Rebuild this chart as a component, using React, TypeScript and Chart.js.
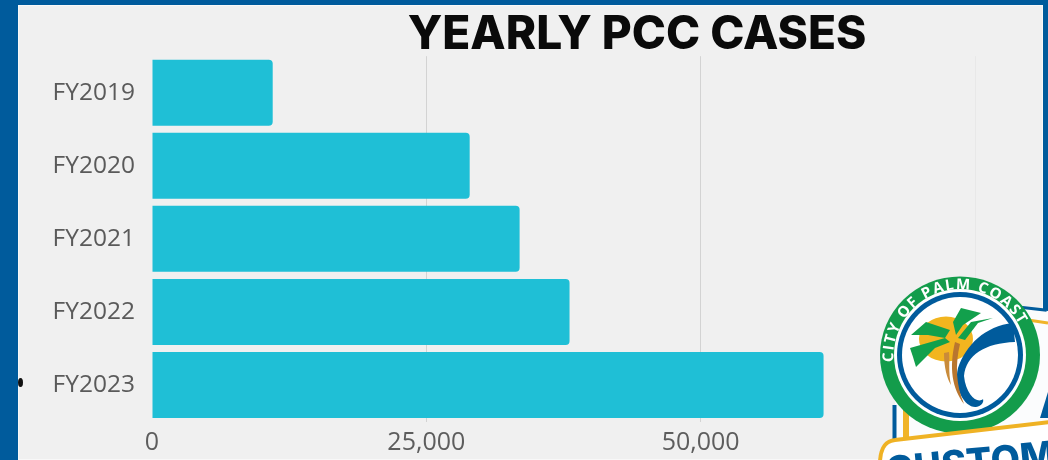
import React, { useEffect, useRef } from "react";
import { Chart, registerables } from "chart.js";

Chart.register(...registerables);

const fiscalYears = ["FY2019", "FY2020", "FY2021", "FY2022", "FY2023"];
const pccCases = [11000, 28950, 33500, 38050, 61200];
const axisTicks = [0, 25000, 50000, 75000];
const gridColors = ["rgba(0,0,0,0)", "#d3d3d3", "#d3d3d3", "#e8e8e8"];

const W = 1048;
const H = 460;

// Shifts the title block so the heading sits right of the plot's own centre.
const titleOffset = {
  id: "titleOffset",
  afterLayout(chart: any) {
    chart.titleBlock.left = 299;
  },
};

function Seal() {
  return (
    <svg
      width={W}
      height={H}
      viewBox={`0 0 ${W} ${H}`}
      style={{ position: "absolute", left: 0, top: 0 }}
    >
      <defs>
        <path id="sealArc" d="M 893.5 362 A 67 67 0 0 1 1025 339" fill="none" />
      </defs>
      {/* shield behind the seal */}
      <path d="M 895 445 L 895 400 L 1018 308 L 1048 311 L 1048 445 Z" fill="#fbfcfd" />
      <path d="M 894.5 445 L 894.5 405" stroke="#005b9c" strokeWidth="4" fill="none" />
      <path d="M 906 445 L 906 410" stroke="#f0b428" strokeWidth="6" fill="none" />
      <path d="M 1018 307 L 1045 310 L 1045 255" stroke="#005b9c" strokeWidth="3" fill="none" />
      <path d="M 1028 320 L 1048 323" stroke="#f0b428" strokeWidth="3" fill="none" />
      <path d="M 1048 392 L 1040 418 L 1048 418 Z" fill="#005b9c" />
      {/* seal */}
      <ellipse cx="960" cy="355" rx="80" ry="78.5" fill="#139c4b" />
      <circle cx="960" cy="355" r="66" fill="#ffffff" />
      <circle cx="960" cy="355" r="63" fill="#005b9c" />
      <circle cx="960" cy="355" r="58" fill="#ffffff" />
      <text fontFamily="'Open Sans'" fontWeight="700" fontSize="15" fill="#ffffff" letterSpacing="1.6">
        <textPath href="#sealArc">CITY OF PALM COAST</textPath>
      </text>
      <ellipse cx="946" cy="339" rx="27" ry="22.5" fill="#f2b51f" />
      <path d="M 911 335 L 926 322 L 950 330 L 945 338 L 928 335 Z" fill="#12a04c" />
      <path d="M 910 348 L 945 338 L 950 342 L 935 348 L 916 367 L 913 357 Z" fill="#12a04c" />
      <path d="M 953 322 L 961 308 L 981 313 L 963 325 L 956 335 Z" fill="#12a04c" />
      <path d="M 958 338 L 971 322 L 993 318 L 978 323 L 965 340 Z" fill="#12a04c" />
      <path
        d="M 1013 323 C 985 326 966 345 958 368 C 953 388 965 408 976 407 C 982 406 984 402 983 399 C 978 404 966 396 964 376 C 966 355 985 343 1015 342 Z"
        fill="#005b9c"
      />
      <path d="M 944 353 C 944 368 947 378 951 385 C 948 372 950 360 949 352 Z" fill="#c98b3a" />
      <path d="M 955 342 C 949 368 952 388 964 404 C 956 385 955 365 960 344 Z" fill="#b9762f" />
      {/* banner */}
      <path
        d="M 880 470 C 879 450 884 441 895 440 L 1050 422 L 1050 470 Z"
        fill="#ffffff"
        stroke="#efb224"
        strokeWidth="4"
      />
      <text
        x="887"
        y="484"
        fontFamily="Inter"
        fontWeight="800"
        fontSize="38"
        fill="#005b9c"
        transform="rotate(-5.5 887 484)"
      >
        CUSTOMER
      </text>
    </svg>
  );
}

export default function App() {
  const canvasRef = useRef<HTMLCanvasElement>(null);

  useEffect(() => {
    document.body.style.margin = "0";
    const chart = new Chart(canvasRef.current!, {
      type: "bar",
      data: {
        labels: fiscalYears,
        datasets: [
          {
            data: pccCases,
            backgroundColor: "#1fbfd6",
            borderRadius: 4,
            borderSkipped: "left",
            categoryPercentage: 1,
            barPercentage: 0.904,
          },
        ],
      },
      plugins: [titleOffset],
      options: {
        indexAxis: "y",
        responsive: false,
        animation: false,
        layout: { padding: { left: 18, right: W - 975, top: 0, bottom: 0 } },
        plugins: {
          legend: { display: false },
          tooltip: { enabled: false },
          title: {
            display: true,
            text: "YEARLY PCC CASES",
            color: "#0a0a0a",
            font: { family: "Inter", weight: "800", size: 46, lineHeight: 1 },
            padding: { top: 12, bottom: -1.8 },
          },
        },
        scales: {
          x: {
            type: "linear",
            min: 0,
            max: 75000,
            afterBuildTicks: (axis) => {
              axis.ticks = axisTicks.map((value) => ({ value }));
            },
            afterFit: (axis) => {
              axis.height = H - 421.5;
            },
            grid: {
              color: (ctx) => gridColors[ctx.index] ?? "#d3d3d3",
              drawTicks: false,
              lineWidth: 1,
            },
            border: { display: false },
            ticks: {
              color: "#5d5d5d",
              font: { family: "'Open Sans'", size: 25 },
              padding: 6,
              maxRotation: 0,
              callback: (v) => Number(v).toLocaleString("en-US"),
            },
          },
          y: {
            afterFit: (axis) => {
              axis.width = 152 - 18;
            },
            grid: { display: false },
            border: { display: false },
            ticks: {
              color: "#5a5a5a",
              font: { family: "'Open Sans'", size: 24.5 },
              padding: 9,
            },
          },
        },
      },
    });
    return () => chart.destroy();
  }, []);

  return (
    <div
      style={{
        position: "relative",
        width: W,
        height: H,
        overflow: "hidden",
        background: "#005b9c",
      }}
    >
      <div
        style={{
          position: "absolute",
          left: 18,
          top: 5,
          width: 1025,
          height: H - 5,
          background: "#f0f0f0",
          boxShadow: "inset 0 0 0 1px #f8f8f8",
        }}
      />
      <canvas
        ref={canvasRef}
        width={W}
        height={H}
        style={{ position: "absolute", left: 0, top: 0 }}
      />
      <div
        style={{
          position: "absolute",
          left: 18,
          top: 378,
          width: 5,
          height: 9,
          borderRadius: "50%",
          background: "#111",
        }}
      />
      <Seal />
    </div>
  );
}
